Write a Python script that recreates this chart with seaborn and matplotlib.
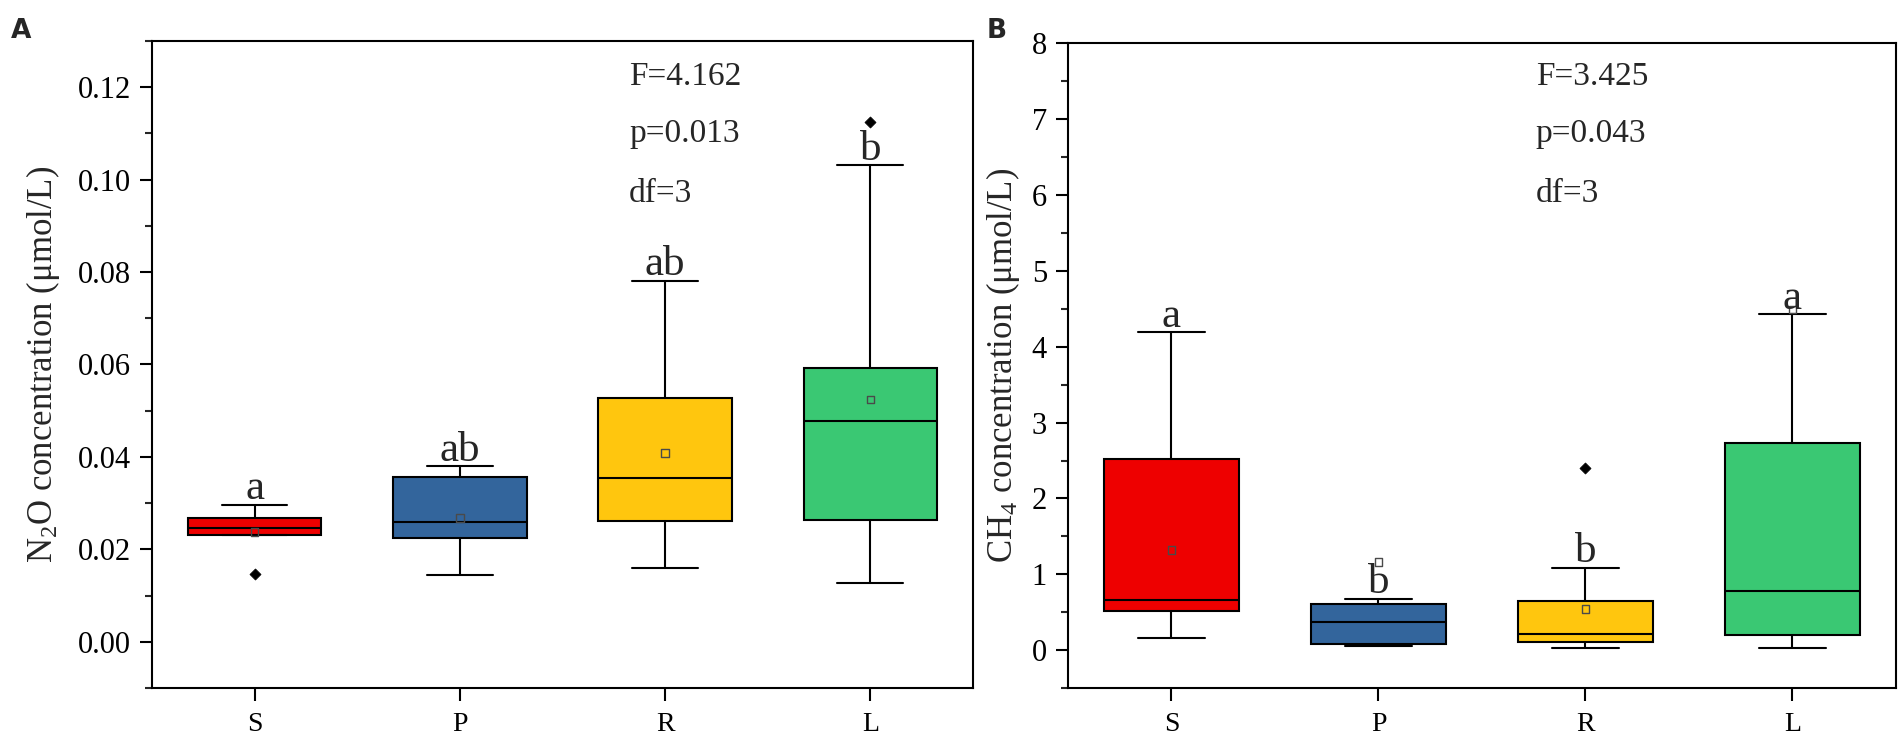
import numpy as np
import pandas as pd
import matplotlib
matplotlib.use("Agg")
import matplotlib.pyplot as plt
import seaborn as sns
from matplotlib.ticker import MultipleLocator, FormatStrFormatter

# ---------------- data ----------------
categories = ["S", "P", "R", "L"]
box_colors = ["#EE0000", "#33659C", "#FFC60E", "#3AC873"]

# Panel A: N2O concentration (umol/L)
n2o_q1 = [0.0231, 0.0224, 0.0262, 0.0263]
n2o_med = [0.0246, 0.0259, 0.0354, 0.0478]
n2o_q3 = [0.0268, 0.0356, 0.0527, 0.0592]
n2o_whislo = [0.0231, 0.0145, 0.0160, 0.0128]
n2o_whishi = [0.0296, 0.0380, 0.0781, 0.1031]
n2o_mean = [0.0237, 0.0268, 0.0408, 0.0524]
n2o_outliers = [[0.0147], [], [], [0.1125]]
n2o_letters = ["a", "ab", "ab", "b"]
n2o_stats_text = ["F=4.162", "p=0.013", "df=3"]
n2o_yticks = [0.00, 0.02, 0.04, 0.06, 0.08, 0.10, 0.12]

# Panel B: CH4 concentration (umol/L)
ch4_q1 = [0.516, 0.080, 0.105, 0.198]
ch4_med = [0.666, 0.373, 0.216, 0.780]
ch4_q3 = [2.52, 0.603, 0.641, 2.73]
ch4_whislo = [0.154, 0.060, 0.030, 0.030]
ch4_whishi = [4.19, 0.673, 1.084, 4.43]
ch4_mean = [1.32, 1.165, 0.541, 4.49]
ch4_outliers = [[], [], [2.40], []]
ch4_letters = ["a", "b", "b", "a"]
ch4_stats_text = ["F=3.425", "p=0.043", "df=3"]
ch4_yticks = [0, 1, 2, 3, 4, 5, 6, 7, 8]

# ---------------- style ----------------
sns.set_theme(style="ticks")
plt.rcParams["font.family"] = ["Liberation Serif", "DejaVu Serif"]
plt.rcParams["mathtext.fontset"] = "custom"
plt.rcParams["mathtext.rm"] = "Liberation Serif"
plt.rcParams["mathtext.it"] = "Liberation Serif:italic"
plt.rcParams["mathtext.bf"] = "Liberation Serif:bold"

LW = 1.5


def draw_panel(ax, q1, med, q3, wlo, whi, mean, outliers, letters, stats_text,
               ylabel, ylim, yticks, minor, fmt, label_x, stats_pos):
    positions = np.arange(len(categories)) + 1
    stats = []
    for i, c in enumerate(categories):
        stats.append(dict(label=c, q1=q1[i], med=med[i], q3=q3[i],
                          whislo=wlo[i], whishi=whi[i], fliers=[]))
    bp = ax.bxp(stats, positions=positions, widths=0.65, capwidths=0.32,
                patch_artist=True, showfliers=False, showmeans=False,
                boxprops=dict(edgecolor="black", linewidth=LW),
                medianprops=dict(color="black", linewidth=LW),
                whiskerprops=dict(color="black", linewidth=LW),
                capprops=dict(color="black", linewidth=LW))
    for patch, col in zip(bp["boxes"], box_colors):
        patch.set_facecolor(col)

    # means
    mean_df = pd.DataFrame({"x": positions, "y": mean})
    sns.scatterplot(data=mean_df, x="x", y="y", marker="s", s=30,
                    facecolor="none", edgecolor="#4a4a4a", linewidth=1.0,
                    ax=ax, zorder=5, legend=False)
    # outliers
    ox, oy = [], []
    for p, vals in zip(positions, outliers):
        for v in vals:
            ox.append(p)
            oy.append(v)
    if ox:
        out_df = pd.DataFrame({"x": ox, "y": oy})
        sns.scatterplot(data=out_df, x="x", y="y", marker="D", s=32,
                        color="black", edgecolor="black", linewidth=0.5,
                        ax=ax, zorder=6, legend=False)

    # significance letters
    for p, top, let in zip(positions, whi, letters):
        ax.annotate(let, (p, top), xytext=(0, 4), textcoords="offset points",
                    ha="center", va="baseline", fontsize=31, zorder=7)

    # stats text
    for (yy, t) in zip(stats_pos[1], stats_text):
        ax.text(stats_pos[0], yy, t, transform=ax.transAxes, fontsize=24,
                ha="left", va="baseline")

    ax.set_xlim(0.5, len(categories) + 0.5)
    ax.set_xticks(positions)
    ax.set_xticklabels(categories)
    ax.set_ylim(*ylim)
    ax.set_yticks(yticks)
    ax.yaxis.set_major_formatter(FormatStrFormatter(fmt))
    ax.yaxis.set_minor_locator(MultipleLocator(minor))
    ax.set_xlabel("")
    ax.set_ylabel(ylabel, fontsize=25)
    ax.yaxis.set_label_coords(label_x, 0.5)

    for s in ax.spines.values():
        s.set_visible(True)
        s.set_linewidth(LW)
        s.set_color("black")
    ax.tick_params(axis="y", which="major", direction="out", length=9,
                   width=LW, labelsize=22, pad=6, left=True, right=False,
                   colors="black")
    ax.tick_params(axis="y", which="minor", direction="out", length=5,
                   width=LW, left=True, right=False)
    ax.tick_params(axis="x", which="major", direction="out", length=9,
                   width=LW, labelsize=20, pad=8, bottom=True, top=False,
                   colors="black")
    ax.tick_params(axis="x", which="minor", bottom=False, top=False)
    ax.grid(False)
    ax.set_facecolor("white")


fig = plt.figure(figsize=(19.04, 7.42), dpi=100)
fig.patch.set_facecolor("white")
axA = fig.add_axes([0.0798, 0.0728, 0.4312, 0.8720])
axB = fig.add_axes([0.5609, 0.0728, 0.4349, 0.8686])

draw_panel(axA, n2o_q1, n2o_med, n2o_q3, n2o_whislo, n2o_whishi, n2o_mean,
           n2o_outliers, n2o_letters, n2o_stats_text,
           "N$_2$O concentration (μmol/L)", (-0.01, 0.13), n2o_yticks, 0.01,
           "%.2f", -0.1096, (0.581, [0.932, 0.844, 0.7505]))
draw_panel(axB, ch4_q1, ch4_med, ch4_q3, ch4_whislo, ch4_whishi, ch4_mean,
           ch4_outliers, ch4_letters, ch4_stats_text,
           "CH$_4$ concentration (μmol/L)", (-0.5, 8), ch4_yticks, 0.5,
           "%d", -0.0556, (0.565, [0.9356, 0.8475, 0.7535]))

fig.text(11 / 1904, 1 - 38 / 742, "A", fontsize=19, fontweight="bold",
         family=["DejaVu Sans"], va="baseline", ha="left")
fig.text(987 / 1904, 1 - 38 / 742, "B", fontsize=19, fontweight="bold",
         family=["DejaVu Sans"], va="baseline", ha="left")

fig.savefig("out.png", dpi=100, facecolor="white")
